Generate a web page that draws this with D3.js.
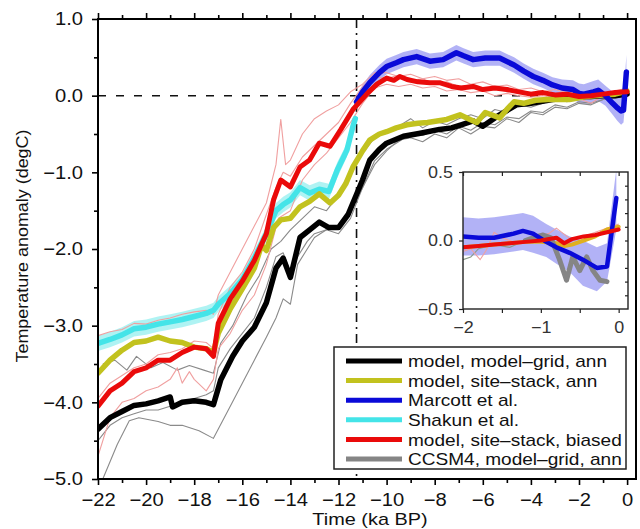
<!DOCTYPE html>
<html>
<head>
<meta charset="utf-8">
<script src="https://d3js.org/d3.v7.min.js"></script>
<style>
body { margin: 0; background: #fff; }
svg { display: block; font-family: "Liberation Sans", Arial, Helvetica, sans-serif; }
</style>
</head>
<body>
<script>
// ---- data: [time (ka BP), anomaly (degC)] ----
var black = [[-22,-4.35],[-21.5,-4.2],[-21,-4.12],[-20.5,-4.04],[-20,-4.02],[-19.5,-3.98],[-19,-3.93],[-18.9,-4.06],[-18.5,-4.0],[-18,-3.98],[-17.5,-4.0],[-17.2,-4.03],[-16.9,-3.71],[-16.4,-3.4],[-16,-3.2],[-15.5,-3.02],[-15,-2.7],[-14.6,-2.25],[-14.3,-2.12],[-14,-2.37],[-13.6,-1.85],[-13.2,-1.75],[-12.8,-1.65],[-12.4,-1.72],[-12,-1.72],[-11.6,-1.55],[-11.4,-1.4],[-11,-1.1],[-10.7,-0.84],[-10.3,-0.7],[-10,-0.62],[-9.3,-0.53],[-8.6,-0.49],[-7.8,-0.44],[-7.3,-0.42],[-6.9,-0.38],[-6.4,-0.33],[-6,-0.4],[-5.3,-0.25],[-4.6,-0.12],[-4,-0.1],[-3.1,-0.05],[-2.4,-0.03],[-1.7,-0.01],[-1,0],[-0.5,0],[0,0.02]];
var yellow = [[-22,-3.62],[-21.5,-3.45],[-21,-3.32],[-20.5,-3.22],[-20,-3.2],[-19.5,-3.15],[-19,-3.2],[-18.5,-3.22],[-18,-3.28],[-17.5,-3.3],[-17.2,-3.35],[-17,-3.1],[-16.5,-2.78],[-16,-2.52],[-15.5,-2.25],[-15.2,-1.95],[-15,-2.02],[-14.7,-1.72],[-14.4,-1.62],[-14,-1.6],[-13.6,-1.45],[-13.2,-1.38],[-12.8,-1.28],[-12.35,-1.4],[-12,-1.3],[-11.7,-1.15],[-11.4,-0.93],[-11,-0.72],[-10.7,-0.58],[-10.3,-0.5],[-10,-0.47],[-9.6,-0.42],[-9.15,-0.38],[-8.7,-0.36],[-8.3,-0.35],[-7.9,-0.33],[-7.5,-0.31],[-6.95,-0.25],[-6.6,-0.3],[-6.25,-0.35],[-5.9,-0.22],[-5.3,-0.29],[-5,-0.18],[-4.7,-0.08],[-4.3,-0.1],[-3.8,-0.06],[-3.3,-0.05],[-2.4,-0.05],[-1.7,-0.01],[-1,0.01],[-0.5,0.02],[0,0.06]];
var red = [[-22,-4.05],[-21.5,-3.85],[-21,-3.75],[-20.5,-3.6],[-20,-3.55],[-19.5,-3.45],[-19,-3.45],[-18.5,-3.35],[-18,-3.28],[-17.5,-3.3],[-17.2,-3.4],[-17,-2.97],[-16.5,-2.65],[-16,-2.42],[-15.5,-2.15],[-15,-1.8],[-14.7,-1.36],[-14.4,-1.1],[-14,-1.19],[-13.6,-0.93],[-13.2,-0.84],[-12.8,-0.62],[-12.35,-0.66],[-11.9,-0.44],[-11.4,-0.18],[-10.8,0.03],[-10.4,0.15],[-10,0.23],[-9.7,0.2],[-9.45,0.25],[-9.15,0.21],[-8.7,0.18],[-8.2,0.17],[-7.8,0.17],[-7.3,0.12],[-6.9,0.1],[-6.4,0.12],[-6,0.08],[-5.5,0.1],[-5,0.08],[-4.5,0.05],[-4,0.02],[-3.5,0.04],[-3,0.01],[-2.5,0.02],[-2,-0.01],[-1.5,0],[-1,0.02],[-0.5,0.04],[0,0.05]];
// [time, value, half-width of band]
var marcott = [[-11.25,-0.08,0.08],[-11,0.05,0.09],[-10.7,0.17,0.1],[-10.3,0.3,0.1],[-10,0.38,0.1],[-9.6,0.43,0.1],[-9.3,0.47,0.1],[-8.75,0.51,0.1],[-8.2,0.45,0.1],[-7.65,0.47,0.1],[-7.1,0.56,0.1],[-6.8,0.52,0.1],[-6.4,0.47,0.1],[-5.9,0.49,0.1],[-5.3,0.49,0.1],[-4.7,0.4,0.1],[-4.3,0.32,0.1],[-3.9,0.25,0.1],[-3.5,0.2,0.1],[-3.1,0.14,0.1],[-2.7,0.1,0.11],[-2.25,0.08,0.12],[-2,0.03,0.13],[-1.8,0.02,0.13],[-1.4,0.05,0.14],[-1.2,0.07,0.14],[-0.9,0,0.13],[-0.6,-0.1,0.15],[-0.4,-0.16,0.17],[-0.25,-0.2,0.18],[-0.15,-0.19,0.16],[-0.03,0.31,0.22]];
var shakun = [[-22,-3.23,0.1],[-21.5,-3.18,0.1],[-21,-3.12,0.1],[-20.5,-3.04,0.1],[-20,-3.02,0.1],[-19.5,-2.98,0.1],[-19,-2.95,0.1],[-18.5,-2.92,0.1],[-18,-2.88,0.1],[-17.5,-2.84,0.1],[-17.2,-2.8,0.1],[-17,-2.72,0.1],[-16.5,-2.58,0.1],[-16,-2.4,0.1],[-15.5,-2.12,0.1],[-15,-1.8,0.1],[-14.6,-1.5,0.1],[-14.3,-1.42,0.1],[-14,-1.36,0.1],[-13.6,-1.2,0.1],[-13.2,-1.27,0.1],[-12.8,-1.22,0.1],[-12.4,-1.25,0.1],[-12.05,-0.97,0.1],[-11.65,-0.71,0.09],[-11.4,-0.4,0.08],[-11.3,-0.3,0.08]];
// thin individual curves
var pink1 = [[-22,-3.13],[-21.5,-3.08],[-21,-3.05],[-20.5,-2.97],[-20,-2.98],[-19.5,-2.93],[-19,-2.9],[-18.5,-2.85],[-18,-2.82],[-17.5,-2.8],[-17.2,-2.85],[-17,-2.6],[-16.5,-2.3],[-16,-2.0],[-15.5,-1.7],[-15,-1.4],[-14.6,-0.9],[-14.4,-0.31],[-14.2,-0.9],[-14,-0.84],[-13.5,-0.5],[-13,-0.3],[-12.5,-0.2],[-12,-0.12],[-11.5,0.05],[-11,0.15],[-10.5,0.3],[-10,0.3],[-9.5,0.25],[-9,0.28],[-8.5,0.22],[-8,0.25],[-7.5,0.2],[-7,0.22],[-6.5,0.15],[-6,0.18],[-5.5,0.12],[-5,0.14],[-4.5,0.08],[-4,0.1],[-3.5,0.05],[-3,0.08],[-2.5,0.04],[-2,0.03],[-1.5,0.05],[-1,0.02],[-0.5,0.06],[0,0.1]];
var pink2 = [[-22,-4.7],[-21.7,-4.4],[-21.5,-4.2],[-21,-4.0],[-20.5,-3.95],[-20,-3.85],[-19.5,-3.8],[-19,-3.7],[-18.7,-3.55],[-18.5,-3.75],[-18.2,-3.6],[-18,-3.7],[-17.5,-3.85],[-17.2,-3.7],[-17,-3.3],[-16.5,-3.1],[-16,-2.8],[-15.5,-2.6],[-15,-2.2],[-14.5,-1.6],[-14,-1.5],[-13.5,-1.1],[-13,-0.9],[-12.5,-0.75],[-12,-0.55],[-11.5,-0.35],[-11,-0.1],[-10.5,0.1],[-10,0.15],[-9.5,0.12],[-9,0.15],[-8.5,0.1],[-8,0.12],[-7.5,0.06],[-7,0.08],[-6.5,0.04],[-6,0.06],[-5.5,0],[-5,0.03],[-4.5,0],[-4,-0.02],[-3.5,0],[-3,-0.03],[-2.5,0],[-2,-0.04],[-1.5,-0.1],[-1,0],[-0.5,0.02],[0,0.04]];
var pink3 = [[-22,-3.95],[-21.5,-3.75],[-21,-3.65],[-20.5,-3.55],[-20,-3.5],[-19.5,-3.38],[-19,-3.35],[-18.5,-3.3],[-18,-3.2],[-17.5,-3.22],[-17.2,-3.3],[-17,-2.85],[-16.5,-2.5],[-16,-2.3],[-15.5,-2.0],[-15,-1.55],[-14.6,-1.2],[-14.3,-1.0],[-14,-1.05],[-13.5,-0.8],[-13,-0.65],[-12.5,-0.5],[-12,-0.35],[-11.5,-0.1],[-11,0.12],[-10.5,0.25],[-10,0.22],[-9.5,0.27],[-9,0.2],[-8.5,0.22],[-8,0.15],[-7.5,0.18],[-7,0.12],[-6.5,0.14],[-6,0.08],[-5.5,0.1],[-5,0.05],[-4.5,0.07],[-4,0.04],[-3.5,0.06],[-3,0],[-2.5,0.03],[-2,0],[-1.5,0.02],[-1,-0.01],[-0.5,0.04],[0,0.06]];
var gray1 = [[-21.8,-5.0],[-21.2,-4.55],[-20.7,-4.24],[-20.3,-4.2],[-19.5,-4.25],[-19,-4.3],[-18.5,-4.3],[-17.8,-4.37],[-17.2,-4.47],[-16.5,-4.05],[-16,-3.75],[-15.5,-3.45],[-15,-3.15],[-14.6,-2.9],[-14.3,-2.65],[-14,-2.72],[-13.7,-2.2],[-13.3,-2.0],[-13,-1.85],[-12.5,-1.75],[-12,-1.7],[-11.5,-1.5],[-11,-1.2],[-10.5,-0.85],[-10,-0.7],[-9.5,-0.6],[-9,-0.5],[-8.5,-0.52],[-8,-0.45],[-7.5,-0.5],[-7,-0.4],[-6.5,-0.45],[-6,-0.35],[-5.5,-0.38],[-5,-0.28],[-4.5,-0.3],[-4,-0.2],[-3.5,-0.22],[-3,-0.12],[-2.5,-0.15],[-2,-0.08],[-1.5,-0.1],[-1,-0.05],[-0.5,-0.02],[0,0]];
var gray2 = [[-21.8,-3.5],[-21.3,-3.45],[-20.8,-3.58],[-20.4,-3.4],[-19.8,-3.55],[-19.3,-3.48],[-18.7,-3.58],[-18.2,-3.52],[-17.6,-3.58],[-17.2,-3.62],[-16.9,-3.23],[-16.4,-3.0],[-15.8,-2.6],[-15.3,-2.35],[-14.8,-2.0],[-14.4,-1.9],[-14,-1.75],[-13.5,-1.6],[-13,-1.45],[-12.5,-1.5],[-12,-1.3],[-11.5,-1.0],[-11,-0.75],[-10.5,-0.55],[-10,-0.45],[-9.5,-0.4],[-9,-0.3],[-8.5,-0.42],[-8,-0.33],[-7.5,-0.38],[-7,-0.3],[-6.5,-0.25],[-6,-0.3],[-5.5,-0.18],[-5,-0.22],[-4.5,-0.12],[-4,-0.15],[-3.5,-0.1],[-3,-0.05],[-2.5,-0.08],[-2,-0.02],[-1.5,-0.05],[-1,0],[-0.5,0.02],[0,0.03]];
var gray3 = [[-22,-4.5],[-21.5,-4.3],[-21,-4.2],[-20.5,-4.15],[-20,-4.1],[-19.5,-4.1],[-19,-4.05],[-18.5,-4.0],[-18,-3.95],[-17.5,-3.9],[-17.2,-3.85],[-17,-3.55],[-16.5,-3.3],[-16,-3.1],[-15.5,-2.9],[-15,-2.5],[-14.6,-2.1],[-14.3,-2.05],[-14,-2.3],[-13.7,-2.1],[-13.3,-1.9],[-13,-1.8],[-12.5,-1.75],[-12,-1.8],[-11.5,-1.6],[-11,-1.2],[-10.5,-0.9],[-10,-0.72],[-9.5,-0.58],[-9,-0.55],[-8.5,-0.6],[-8,-0.5],[-7.5,-0.55],[-7,-0.42],[-6.5,-0.5],[-6,-0.4],[-5.5,-0.42],[-5,-0.3],[-4.5,-0.35],[-4,-0.22],[-3.5,-0.25],[-3,-0.15],[-2.5,-0.17],[-2,-0.1],[-1.5,-0.12],[-1,-0.05],[-0.5,-0.03],[0,0]];

// inset (last 2 ka)
var redIn = [[-2,-0.05],[-1.8,-0.04],[-1.6,-0.03],[-1.4,-0.02],[-1.2,-0.01],[-1,0],[-0.8,0.02],[-0.7,-0.02],[-0.6,0.01],[-0.45,0.03],[-0.3,0.04],[-0.15,0.06],[0,0.08]];
var yellowIn = [[-2,-0.05],[-1.8,-0.04],[-1.6,-0.03],[-1.4,-0.02],[-1.2,-0.01],[-1,-0.01],[-0.8,-0.02],[-0.7,-0.04],[-0.6,-0.03],[-0.45,0],[-0.3,0.03],[-0.15,0.08],[0,0.1]];
// [time, value, lower, upper]
var marcottIn = [[-2,0.03,-0.11,0.17],[-1.8,0.02,-0.11,0.16],[-1.6,0.02,-0.1,0.17],[-1.35,0.05,-0.08,0.19],[-1.23,0.07,-0.07,0.2],[-1.1,0.05,-0.09,0.18],[-0.93,-0.01,-0.12,0.12],[-0.8,-0.05,-0.17,0.08],[-0.63,-0.09,-0.23,0.03],[-0.46,-0.14,-0.33,0],[-0.28,-0.2,-0.37,-0.05],[-0.15,-0.19,-0.3,-0.02],[-0.03,0.31,0.08,0.52]];
var ccsmIn = [[-1.2,0],[-1.1,0.02],[-0.97,0.04],[-0.87,0.02],[-0.76,-0.14],[-0.67,-0.29],[-0.59,-0.12],[-0.5,-0.22],[-0.41,-0.12],[-0.33,-0.22],[-0.24,-0.29],[-0.15,-0.3]];
var pinkIn = [[-2,-0.08],[-1.9,-0.06],[-1.78,-0.14],[-1.7,-0.07],[-1.6,0.06],[-1.5,0.02],[-1.3,-0.02],[-1.1,0.02],[-0.9,0.05],[-0.8,0.09],[-0.6,0],[-0.4,0.04],[-0.2,0.08],[0,0.12]];
var grayIn = [[-2,-0.14],[-1.9,-0.12],[-1.8,-0.06],[-1.6,-0.03],[-1.4,-0.05],[-1.2,0],[-1,0.02]];

var legendNames = ["model, model\u2013grid, ann", "model, site\u2013stack, ann", "Marcott et al.", "Shakun et al.", "model, site\u2013stack, biased", "CCSM4, model\u2013grid, ann"];
var legendColors = ["#000000", "#c2c21e", "#0a0ad8", "#44e4e8", "#ea0a0a", "#858585"];

var w = 640, h = 529;
var svg = d3.select("body").append("svg").attr("width", w).attr("height", h);

// stretch text a bit wider, the original font is wide
function stretch(sel, k) {
	sel.each(function() {
		var l = this.getComputedTextLength();
		if (l > 0) d3.select(this).attr("textLength", l * k).attr("lengthAdjust", "spacingAndGlyphs");
	});
}

var x = d3.scaleLinear().domain([-22, 0.37]).range([98, 636]);
var y = d3.scaleLinear().domain([-5, 1]).range([479, 19]);

var defs = svg.append("defs");
defs.append("clipPath").attr("id", "mainClip").append("rect")
	.attr("x", 98).attr("y", 19).attr("width", 538).attr("height", 460);

var plot = svg.append("g").attr("clip-path", "url(#mainClip)");

// reference lines
plot.append("line")
	.attr("x1", x(-22)).attr("x2", x(0.37)).attr("y1", y(0)).attr("y2", y(0))
	.attr("stroke", "#111").attr("stroke-width", 1.5).attr("stroke-dasharray", "8,10");
plot.append("line")
	.attr("x1", x(-11.25)).attr("x2", x(-11.25)).attr("y1", y(1)).attr("y2", y(-5))
	.attr("stroke", "#111").attr("stroke-width", 1.6).attr("stroke-dasharray", "9,5,2,5");

var line = d3.line().x(function(d) { return x(d[0]); }).y(function(d) { return y(d[1]); });
var band = d3.area().x(function(d) { return x(d[0]); })
	.y0(function(d) { return y(d[1] - d[2]); })
	.y1(function(d) { return y(d[1] + d[2]); });

plot.append("path").attr("d", band(shakun)).attr("fill", "#a6f2f2").attr("opacity", 0.9);
plot.append("path").attr("d", band(marcott)).attr("fill", "#a4a4f4").attr("opacity", 0.85);

[gray1, gray2, gray3].forEach(function(s) {
	plot.append("path").attr("d", line(s)).attr("fill", "none")
		.attr("stroke", "#8a8a8a").attr("stroke-width", 1.1).attr("stroke-linejoin", "round");
});
[pink1, pink2, pink3].forEach(function(s) {
	plot.append("path").attr("d", line(s)).attr("fill", "none")
		.attr("stroke", "#f0a0a0").attr("stroke-width", 1.1).attr("stroke-linejoin", "round");
});

function thick(g, gen, s, col, sw) {
	g.append("path").attr("d", gen(s)).attr("fill", "none")
		.attr("stroke", col).attr("stroke-width", sw)
		.attr("stroke-linejoin", "round").attr("stroke-linecap", "round");
}
thick(plot, line, shakun, "#44e4e8", 5.5);
thick(plot, line, black, "#000000", 5.5);
thick(plot, line, yellow, "#c2c21e", 5.5);
thick(plot, line, marcott, "#0a0ad8", 5.5);
thick(plot, line, red, "#ea0a0a", 5);

// axes
var xTicks = d3.range(-22, 1, 1);
var yTicks = d3.range(-5, 1.01, 0.5);

var gx = svg.append("g").attr("transform", "translate(0,479)")
	.call(d3.axisBottom(x).tickValues(xTicks).tickSizeOuter(0).tickSize(6).tickPadding(8)
		.tickFormat(function(d) { return d % 2 === 0 ? d3.format("d")(d) : ""; }));
gx.selectAll(".tick").filter(function(d) { return d % 2 !== 0; }).select("line").attr("y2", 4);

var gt = svg.append("g").attr("transform", "translate(0,19)")
	.call(d3.axisTop(x).tickValues(xTicks).tickSizeOuter(0).tickSize(6).tickFormat(""));
gt.selectAll(".tick").filter(function(d) { return d % 2 !== 0; }).select("line").attr("y2", -4);

var gy = svg.append("g").attr("transform", "translate(98,0)")
	.call(d3.axisLeft(y).tickValues(yTicks).tickSizeOuter(0).tickSize(6).tickPadding(9)
		.tickFormat(function(d) { return Number.isInteger(d) ? d3.format(".1f")(d) : ""; }));
gy.selectAll(".tick").filter(function(d) { return !Number.isInteger(d); }).select("line").attr("x2", -4);

[gx, gt, gy].forEach(function(g) {
	g.select(".domain").remove();
	g.selectAll(".tick line").attr("stroke", "#000").attr("stroke-width", 1.6);
	g.selectAll("text").attr("font-size", 18).attr("fill", "#111")
		.attr("font-family", "'Liberation Sans', Arial, Helvetica, sans-serif");
});
stretch(gx.selectAll("text"), 1.12);
stretch(gy.selectAll("text"), 1.12);

svg.append("rect").attr("x", 98).attr("y", 19).attr("width", 538).attr("height", 460)
	.attr("fill", "none").attr("stroke", "#000").attr("stroke-width", 2);

svg.append("text").text("Time (ka BP)")
	.attr("x", 370).attr("y", 525).attr("text-anchor", "middle")
	.attr("font-size", 17).attr("fill", "#111")
	.call(stretch, 1.17);
svg.append("text").text("Temperature anomaly (degC)")
	.attr("transform", "translate(28,246) rotate(-90)").attr("text-anchor", "middle")
	.attr("font-size", 17).attr("fill", "#111")
	.attr("textLength", 233).attr("lengthAdjust", "spacingAndGlyphs");

// ---- inset ----
var xi = d3.scaleLinear().domain([-2, 0.12]).range([463, 628]);
var yi = d3.scaleLinear().domain([-0.5, 0.5]).range([309, 172]);
defs.append("clipPath").attr("id", "insetClip").append("rect")
	.attr("x", 463).attr("y", 172).attr("width", 165).attr("height", 137);

svg.append("rect").attr("x", 463).attr("y", 172).attr("width", 165).attr("height", 137).attr("fill", "#fff");
var ins = svg.append("g").attr("clip-path", "url(#insetClip)");

var lineI = d3.line().x(function(d) { return xi(d[0]); }).y(function(d) { return yi(d[1]); });
var bandI = d3.area().x(function(d) { return xi(d[0]); })
	.y0(function(d) { return yi(d[2]); })
	.y1(function(d) { return yi(d[3]); });

ins.append("path").attr("d", bandI(marcottIn)).attr("fill", "#a4a4f4").attr("opacity", 0.85);
ins.append("path").attr("d", lineI(grayIn)).attr("fill", "none").attr("stroke", "#8a9a8a").attr("stroke-width", 1.1);
ins.append("path").attr("d", lineI(pinkIn)).attr("fill", "none").attr("stroke", "#f0a0a0").attr("stroke-width", 1.1);
thick(ins, lineI, yellowIn, "#e0b020", 4);
thick(ins, lineI, ccsmIn, "#858585", 5);
thick(ins, lineI, marcottIn, "#0a0ad8", 4.5);
thick(ins, lineI, redIn, "#ea0a0a", 4);

var gxi = svg.append("g").attr("transform", "translate(0,309)")
	.call(d3.axisBottom(xi).tickValues([-2, -1.5, -1, -0.5, 0]).tickSizeOuter(0).tickSize(4).tickPadding(9)
		.tickFormat(function(d) { return Number.isInteger(d) ? d3.format("d")(d) : ""; }));
var gti = svg.append("g").attr("transform", "translate(0,172)")
	.call(d3.axisTop(xi).tickValues([-2, -1.5, -1, -0.5, 0]).tickSizeOuter(0).tickSize(-4).tickFormat(""));
var gyi = svg.append("g").attr("transform", "translate(463,0)")
	.call(d3.axisLeft(yi).tickValues([-0.5, 0, 0.5]).tickSizeOuter(0).tickSize(4).tickPadding(6)
		.tickFormat(d3.format(".1f")));
var gri = svg.append("g").attr("transform", "translate(628,0)")
	.call(d3.axisRight(yi).tickValues(d3.range(-0.4, 0.45, 0.1)).tickSizeOuter(0).tickSize(-3).tickFormat(""));
[gxi, gti, gyi, gri].forEach(function(g) {
	g.select(".domain").remove();
	g.selectAll(".tick line").attr("stroke", "#222").attr("stroke-width", 1.2);
	g.selectAll("text").attr("font-size", 16).attr("fill", "#333")
		.attr("font-family", "'Liberation Sans', Arial, Helvetica, sans-serif");
});
stretch(gxi.selectAll("text"), 1.12);
stretch(gyi.selectAll("text"), 1.12);
svg.append("rect").attr("x", 463).attr("y", 172).attr("width", 165).attr("height", 137)
	.attr("fill", "none").attr("stroke", "#222").attr("stroke-width", 1.4);

// ---- legend ----
var lg = svg.append("g");
lg.append("rect").attr("x", 334).attr("y", 347).attr("width", 292).attr("height", 122)
	.attr("fill", "#fff").attr("stroke", "#222").attr("stroke-width", 1.5);
legendNames.forEach(function(name, i) {
	var yy = 361 + i * 19.6;
	lg.append("line").attr("x1", 346).attr("x2", 402).attr("y1", yy).attr("y2", yy)
		.attr("stroke", legendColors[i]).attr("stroke-width", 5);
	lg.append("text").text(name).attr("x", 408).attr("y", yy).attr("dy", "0.36em")
		.attr("font-size", 17).attr("fill", "#111")
		.call(stretch, 1.12);
});
</script>
</body>
</html>
